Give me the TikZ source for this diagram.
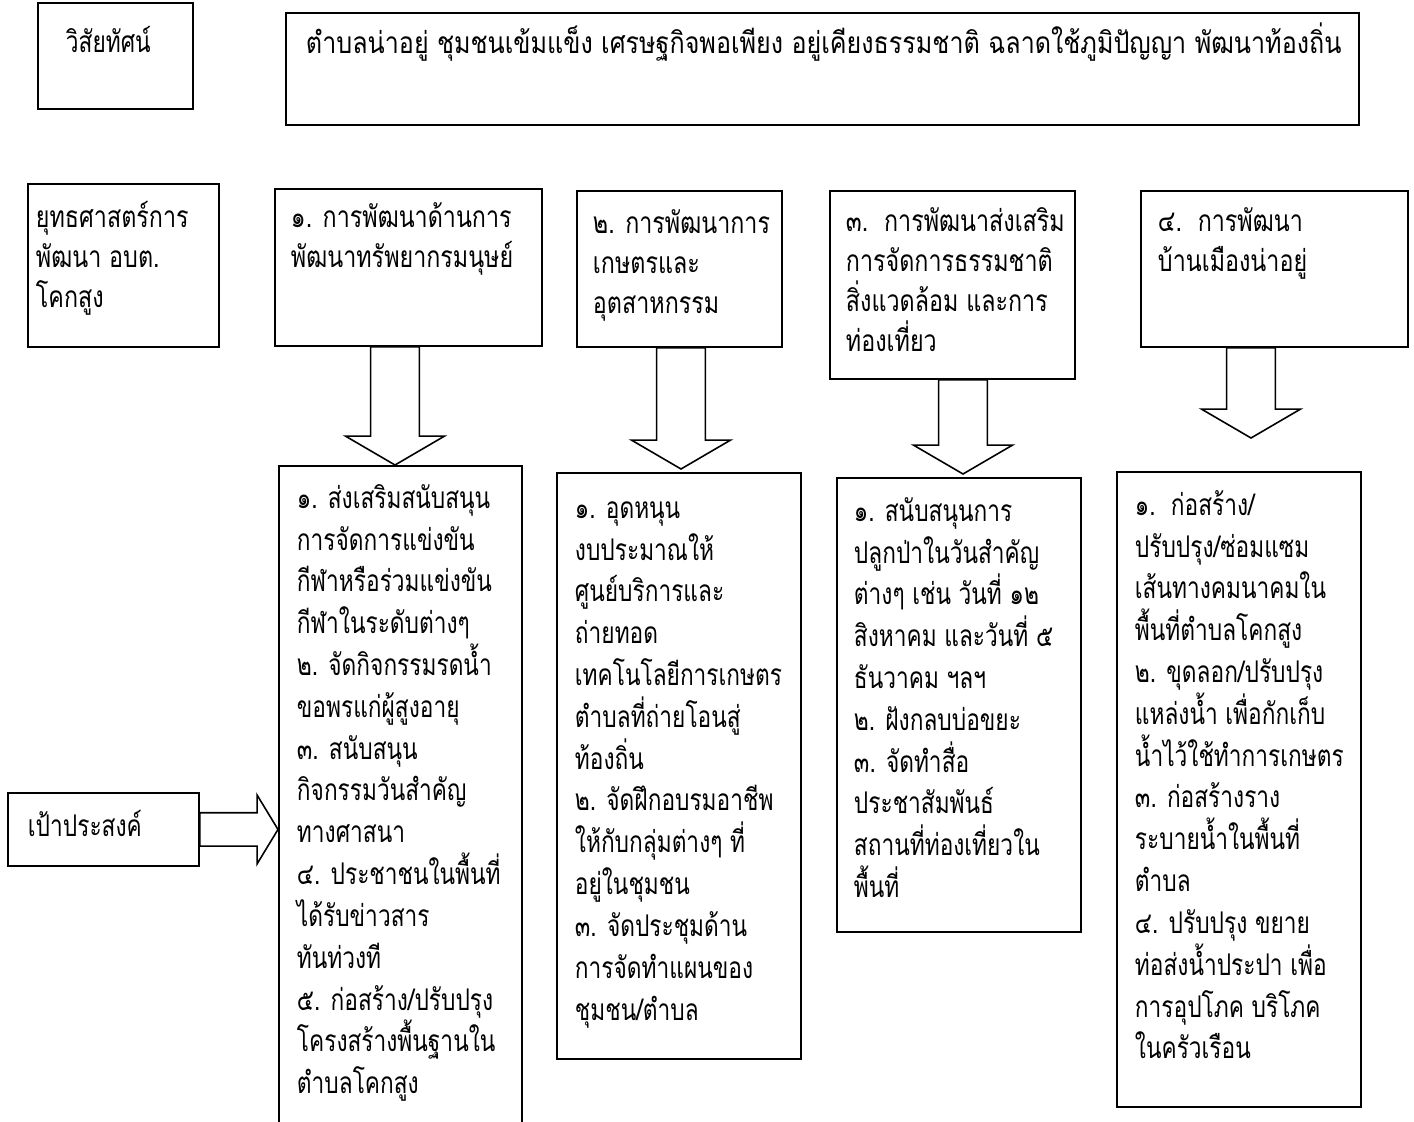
\documentclass[tikz,border=0pt]{standalone}
\usepackage{fontspec}
\newfontfamily\thaifont[Script=Thai,FakeStretch=0.76]{Loma}
\newfontfamily\thaihead[Script=Thai,FakeStretch=0.78]{Loma}
\newfontfamily\thaiwide[Script=Thai,FakeStretch=0.84]{Loma}
\usetikzlibrary{calc,positioning}

\newlength{\px}
\setlength{\px}{0.02cm}
% width, height, left pad, top pad, lines
\newcommand{\boxtext}[5]{\parbox[t][#2\px][t]{#1\px}{\vspace*{#4\px}\raggedright\leftskip=#3\px\relax\strut #5}}

\begin{document}
\begin{tikzpicture}[x=0.02cm,y=-0.02cm,
    box/.style={draw,line width=1.1pt,anchor=north west,inner sep=0pt,
      font=\thaifont\fontsize{17}{23.8}\selectfont},
    sbox/.style={box,font=\thaihead\fontsize{17}{22.7}\selectfont},
    fatdown/.style={draw,line width=0.9pt,
      to path={let \p1=(\tikztostart),\p2=(\tikztotarget) in
        (\x1-13.9pt,\y1) -- (\x1-13.9pt,\y2+16.4pt) -- (\x1-28.1pt,\y2+16.4pt)
        -- (\x1,\y2) -- (\x1+28.1pt,\y2+16.4pt) -- (\x1+13.9pt,\y2+16.4pt)
        -- (\x1+13.9pt,\y1) -- cycle}},
    fatright/.style={draw,line width=0.9pt,
      to path={let \p1=(\tikztostart),\p2=(\tikztotarget) in
        (\x1,\y1+9.5pt) -- (\x2-11.9pt,\y1+9.5pt) -- (\x2-11.9pt,\y1+19.6pt)
        -- (\x2,\y1) -- (\x2-11.9pt,\y1-19.6pt) -- (\x2-11.9pt,\y1-9.5pt)
        -- (\x1,\y1-9.5pt) -- cycle}}]
  \useasboundingbox (0,0) rectangle (1414,1122);

  % vision
  \node[box] (vis) at (37,2) {\boxtext{155}{106}{28}{20}{วิสัยทัศน์}};
  \node[box,font=\thaiwide\fontsize{17}{23.8}\selectfont] (vistext) at (285,12) {\boxtext{1073}{112}{20}{10}{ตำบลน่าอยู่ ชุมชนเข้มแข็ง เศรษฐกิจพอเพียง อยู่เคียงธรรมชาติ ฉลาดใช้ภูมิปัญญา พัฒนาท้องถิ่น}};

  % strategies
  \node[sbox] (strat) at (27,183) {\boxtext{191}{163}{8}{16}{ยุทธศาสตร์การ\\พัฒนา อบต.\\โคกสูง}};
  \node[sbox] (s1) at (274,188) {\boxtext{267}{157}{16}{11}{๑. การพัฒนาด้านการ\\พัฒนาทรัพยากรมนุษย์}};
  \node[sbox] (s2) at (576,190) {\boxtext{205}{156}{16}{15}{๒. การพัฒนาการ\\เกษตรและ\\อุตสาหกรรม}};
  \node[sbox] (s3) at (829,190) {\boxtext{245}{188}{16}{13}{๓.~~การพัฒนาส่งเสริม\\การจัดการธรรมชาติ\\สิ่งแวดล้อม และการ\\ท่องเที่ยว}};
  \node[sbox] (s4) at (1140,190) {\boxtext{267}{156}{17}{13}{๔.~~การพัฒนา\\บ้านเมืองน่าอยู่}};

  % goals
  \node[box] (goal) at (7,792) {\boxtext{191}{73}{20}{14}{เป้าประสงค์}};
  \node[box] (o1) at (278,465) {\boxtext{243}{700}{18}{13}{๑. ส่งเสริมสนับสนุน\\การจัดการแข่งขัน\\กีฬาหรือร่วมแข่งขัน\\กีฬาในระดับต่างๆ\\๒. จัดกิจกรรมรดน้ำ\\ขอพรแก่ผู้สูงอายุ\\๓. สนับสนุน\\กิจกรรมวันสำคัญ\\ทางศาสนา\\๔. ประชาชนในพื้นที่\\ได้รับข่าวสาร\\ทันท่วงที\\๕. ก่อสร้าง/ปรับปรุง\\โครงสร้างพื้นฐานใน\\ตำบลโคกสูง}};
  \node[box] (o2) at (556,472) {\boxtext{244}{586}{18}{16}{๑. อุดหนุน\\งบประมาณให้\\ศูนย์บริการและ\\ถ่ายทอด\\เทคโนโลยีการเกษตร\\ตำบลที่ถ่ายโอนสู่\\ท้องถิ่น\\๒. จัดฝึกอบรมอาชีพ\\ให้กับกลุ่มต่างๆ ที่\\อยู่ในชุมชน\\๓. จัดประชุมด้าน\\การจัดทำแผนของ\\ชุมชน/ตำบล}};
  \node[box] (o3) at (836,477) {\boxtext{244}{454}{17}{14}{๑. สนับสนุนการ\\ปลูกป่าในวันสำคัญ\\ต่างๆ เช่น วันที่ ๑๒\\สิงหาคม และวันที่ ๕\\ธันวาคม ฯลฯ\\๒. ฝังกลบบ่อขยะ\\๓. จัดทำสื่อ\\ประชาสัมพันธ์\\สถานที่ท่องเที่ยวใน\\พื้นที่}};
  \node[box] (o4) at (1116,471) {\boxtext{244}{635}{18}{14}{๑.~~ก่อสร้าง/\\ปรับปรุง/ซ่อมแซม\\เส้นทางคมนาคมใน\\พื้นที่ตำบลโคกสูง\\๒. ขุดลอก/ปรับปรุง\\แหล่งน้ำ เพื่อกักเก็บ\\น้ำไว้ใช้ทำการเกษตร\\๓. ก่อสร้างราง\\ระบายน้ำในพื้นที่\\ตำบล\\๔. ปรับปรุง ขยาย\\ท่อส่งน้ำประปา เพื่อ\\การอุปโภค บริโภค\\ในครัวเรือน}};

  % arrows
  \coordinate (t1) at (395,465);
  \coordinate (t2) at (681,469);
  \coordinate (t3) at (963,474);
  \coordinate (t4) at (1251,438);
  \draw[fatdown] (s1.south -| t1) to (t1);
  \draw[fatdown] (s2.south -| t2) to (t2);
  \draw[fatdown] (s3.south -| t3) to (t3);
  \draw[fatdown] (s4.south -| t4) to (t4);
  \draw[fatright] (goal.east) to (goal.east -| o1.west);
\end{tikzpicture}
\end{document}
